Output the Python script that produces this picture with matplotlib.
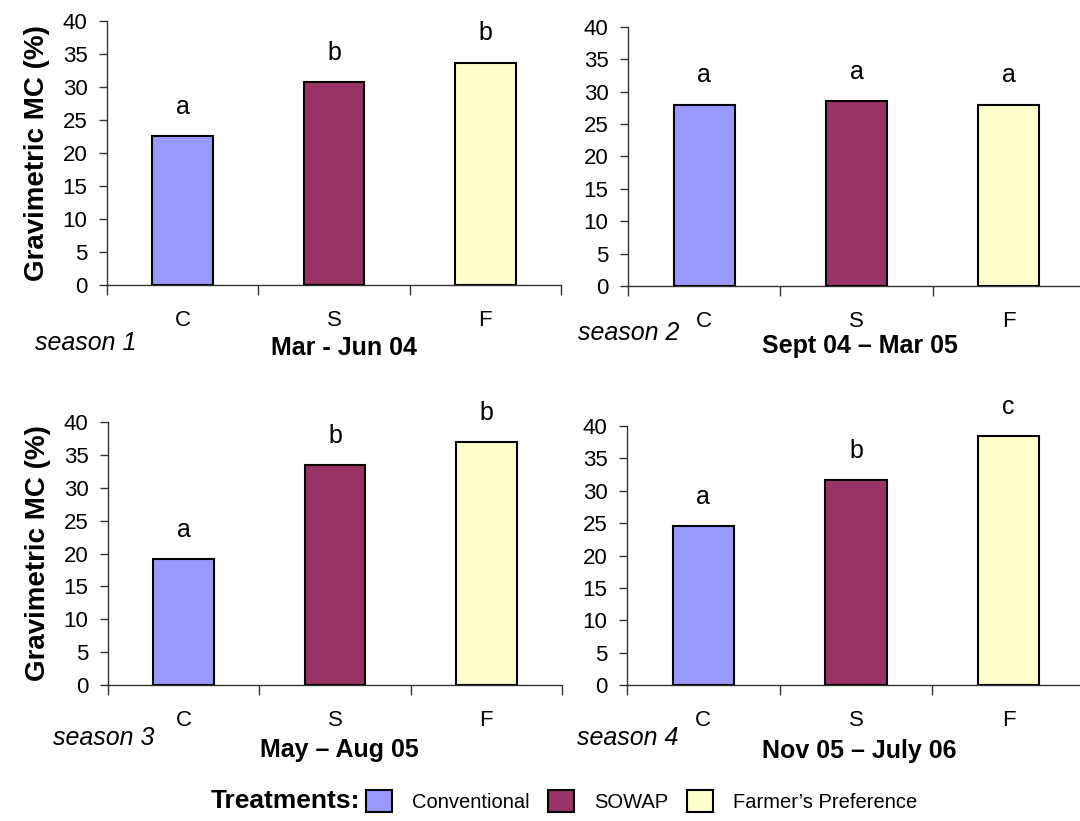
import matplotlib
matplotlib.use("Agg")
import matplotlib.pyplot as plt
from matplotlib.patches import Patch

plt.rcParams['font.family'] = ['Liberation Sans', 'DejaVu Sans']

# data
treatments = ['C', 'S', 'F']
legend_names = ['Conventional', 'SOWAP', "Farmer\u2019s Preference"]
colors = ['#9999FF', '#993366', '#FFFFCC']
seasons = ['season 1', 'season 2', 'season 3', 'season 4']
periods = ['Mar - Jun 04', 'Sept 04 \u2013 Mar 05', 'May \u2013 Aug 05', 'Nov 05 \u2013 July 06']
mc_s1 = [22.5, 30.7, 33.7]
mc_s2 = [28.0, 28.6, 28.0]
mc_s3 = [19.2, 33.4, 37.0]
mc_s4 = [24.5, 31.7, 38.4]
letters_s1 = ['a', 'b', 'b']
letters_s2 = ['a', 'a', 'a']
letters_s3 = ['a', 'b', 'b']
letters_s4 = ['a', 'b', 'c']

W, H = 1080, 821
fig = plt.figure(figsize=(W / 100, H / 100), dpi=100)

def px(x, y):
    return x / W, 1 - y / H

# axes boxes in pixels: left, right, top, bottom
boxes = [(107, 561, 21, 285), (628, 1085, 27, 286),
         (108, 562, 422, 685), (627, 1085, 426, 685)]
values = [mc_s1, mc_s2, mc_s3, mc_s4]
letters = [letters_s1, letters_s2, letters_s3, letters_s4]
season_pos = [(35, 343), (578, 333), (53, 738), (577, 738)]
period_pos = [(344, 348), (860, 346), (339, 750), (859, 751)]

axis_col = '#333333'
for i in range(4):
    l, r, t, b = boxes[i]
    ax = fig.add_axes([l / W, 1 - b / H, (r - l) / W, (b - t) / H])
    x = range(len(treatments))
    bars = ax.bar(x, values[i], width=0.40, color=colors, edgecolor='black', linewidth=1.5, zorder=3)
    for bar, lt in zip(bars, letters[i]):
        ax.annotate(lt, (bar.get_x() + bar.get_width() / 2, bar.get_height()),
                    xytext=(0, 16), textcoords='offset points', ha='center', va='baseline',
                    fontsize=18, annotation_clip=False)
    ax.set_xlim(-0.5, 2.5)
    ax.set_ylim(0, 40)
    ax.set_yticks(range(0, 41, 5))
    ax.set_xticks([-0.5, 0.5, 1.5, 2.5])
    ax.set_xticklabels([])
    ax.set_xticks([0, 1, 2], minor=True)
    ax.set_xticklabels(treatments, minor=True)
    ax.tick_params(axis='x', which='major', direction='out', length=7, width=1, color=axis_col)
    ax.tick_params(axis='x', which='minor', length=0, pad=18, labelsize=16)
    ax.tick_params(axis='y', direction='out', length=6, width=1, color=axis_col, pad=8, labelsize=16)
    for s in ['top', 'right']:
        ax.spines[s].set_visible(False)
    for s in ['left', 'bottom']:
        ax.spines[s].set_color(axis_col)
        ax.spines[s].set_linewidth(1)
    if i in (0, 2):
        ax.set_ylabel('Gravimetric MC (%)', fontsize=20, fontweight='bold', labelpad=9)

    sx, sy = px(*season_pos[i])
    fig.text(sx, sy, seasons[i], fontsize=18, style='italic', ha='left', va='center')
    tx, ty = px(*period_pos[i])
    fig.text(tx, ty, periods[i], fontsize=18, fontweight='bold', ha='center', va='center')

# legend
lx, ly = px(360, 801)
fig.text(lx, ly, 'Treatments:', fontsize=19, fontweight='bold', ha='right', va='center')
handles = [Patch(facecolor=c, edgecolor='black', linewidth=1.5) for c in colors]
fig.legend(handles, legend_names, loc='center left', bbox_to_anchor=px(366, 801),
           ncol=3, frameon=False, fontsize=14.5, handlelength=1.3, handleheight=1.3,
           handletextpad=1.0, columnspacing=0.9, borderpad=0, borderaxespad=0)

plt.savefig('out.png', dpi=100)
